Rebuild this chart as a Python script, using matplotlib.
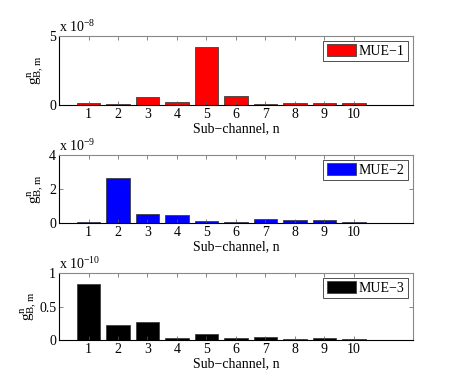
import matplotlib
matplotlib.use("Agg")
import matplotlib.pyplot as plt
from matplotlib.ticker import FuncFormatter, FixedLocator

plt.rcParams['font.family'] = ['Liberation Serif', 'DejaVu Serif']
plt.rcParams['mathtext.fontset'] = 'custom'
plt.rcParams['mathtext.rm'] = 'Liberation Serif'
plt.rcParams['mathtext.it'] = 'Liberation Serif'

channels = [1, 2, 3, 4, 5, 6, 7, 8, 9, 10]
mue1 = [0.14e-8, 0.07e-8, 0.60e-8, 0.24e-8, 4.23e-8, 0.65e-8, 0.05e-8, 0.12e-8, 0.14e-8, 0.17e-8]
mue2 = [0.08e-9, 2.64e-9, 0.55e-9, 0.45e-9, 0.14e-9, 0.04e-9, 0.24e-9, 0.16e-9, 0.18e-9, 0.04e-9]
mue3 = [0.83e-10, 0.23e-10, 0.27e-10, 0.025e-10, 0.096e-10, 0.03e-10, 0.05e-10, 0.012e-10, 0.024e-10, 0.01e-10]

series = [mue1, mue2, mue3]
labels = ['MUE\u22121', 'MUE\u22122', 'MUE\u22123']
colors = ['#ff0000', '#0000ff', '#000000']
exps = [-8, -9, -10]
yticks = [[0, 5], [0, 2, 4], [0, 0.5, 1]]
ylims = [5, 4, 1]

fig = plt.figure(figsize=(4.57, 3.92), dpi=100)
W, H = 457, 392
axes_px = [(36, 105), (155, 223), (273, 340)]
label_x = [-0.062, -0.062, -0.082]
x0, x1 = 59, 413
fs = 10

for i in range(3):
    top, bot = axes_px[i]
    ax = fig.add_axes([x0 / W, 1 - bot / H, (x1 - x0) / W, (bot - top) / H])
    scale = 10.0 ** exps[i]
    ax.bar(channels, series[i], width=0.8, color=colors[i], edgecolor='#404040',
           linewidth=0.6, label=labels[i])
    ax.set_xlim(0, 12)
    ax.set_ylim(0, ylims[i] * scale)
    ax.set_xticks(channels)
    ax.set_xticklabels([str(c) for c in channels], fontsize=fs)
    ax.yaxis.set_major_locator(FixedLocator([t * scale for t in yticks[i]]))
    ax.yaxis.set_major_formatter(FuncFormatter(lambda v, p, s=scale: ('%g' % round(v / s, 6))))
    ax.tick_params(axis='both', direction='in', length=3, width=0.5, top=True, right=True,
                   labelsize=fs, pad=2, color='#555555')
    for side in ['top', 'right']:
        ax.spines[side].set_color('#888888')
        ax.spines[side].set_linewidth(0.8)
    for side in ['left', 'bottom']:
        ax.spines[side].set_color('black')
        ax.spines[side].set_linewidth(0.8)
    ax.set_xlabel('Sub\u2212channel, n', fontsize=fs, labelpad=1)
    ax.set_ylabel(r'$\mathrm{g}^{\mathrm{n}}_{\mathrm{B,m}}$', fontsize=11,
                  va='center', ha='center')
    ax.yaxis.set_label_coords(label_x[i], 0.5)
    ax.text(0.0, 1.02, r'x $10^{%d}$' % exps[i], transform=ax.transAxes, fontsize=fs,
            ha='left', va='bottom')
    leg = ax.legend(loc='upper right', fontsize=fs, frameon=True, fancybox=False,
                    handlelength=2.1, handleheight=0.9, borderpad=0.25, handletextpad=0.2,
                    borderaxespad=0.35)
    leg.get_frame().set_edgecolor('black')
    leg.get_frame().set_linewidth(0.6)

fig.savefig('out.png', dpi=100)
